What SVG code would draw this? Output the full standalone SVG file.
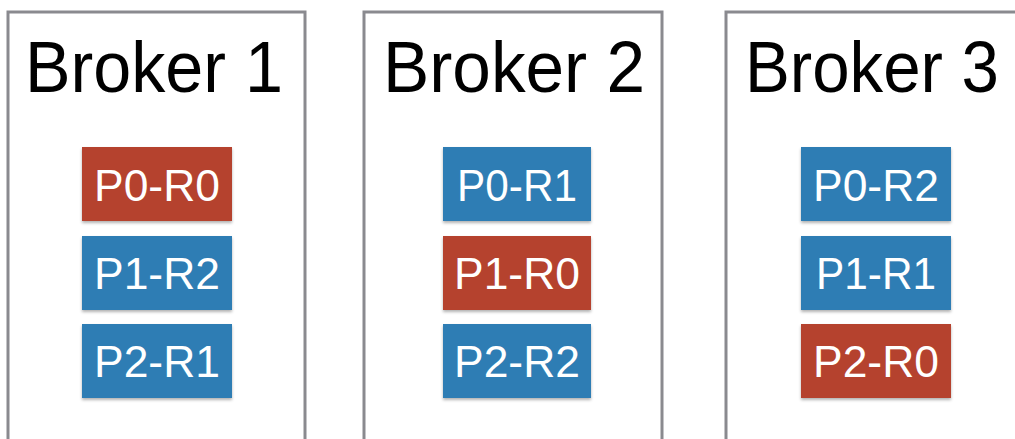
<svg xmlns="http://www.w3.org/2000/svg" width="1015" height="439" viewBox="0 0 1015 439">
  <style>
    .broker { fill: #ffffff; stroke: #8a8a8f; stroke-width: 3; }
    .title { font-family: "Liberation Sans", Arial, sans-serif; font-size: 72px; fill: #000000; text-anchor: middle; }
    .red { fill: #b5432f; filter: url(#sh); }
    .blue { fill: #2f7db4; filter: url(#sh); }
    .pl { font-family: "Liberation Sans", Arial, sans-serif; font-size: 45px; fill: #ffffff; text-anchor: middle; }
  </style>
  <defs>
    <filter id="sh" x="-10%" y="-10%" width="120%" height="130%">
      <feDropShadow dx="0" dy="2" stdDeviation="1.5" flood-color="#000" flood-opacity="0.3"/>
    </filter>
  </defs>
  <rect width="1015" height="439" fill="#ffffff"/>

  <g id="broker1">
    <rect class="broker" x="8" y="12" width="297" height="440"/>
    <text class="title" x="154" y="92" textLength="258" lengthAdjust="spacingAndGlyphs">Broker 1</text>
    <rect class="red" x="82" y="147" width="150" height="74"/>
    <text class="pl" x="157" y="201" textLength="126" lengthAdjust="spacingAndGlyphs">P0-R0</text>
    <rect class="blue" x="82" y="236" width="150" height="74"/>
    <text class="pl" x="157" y="289" textLength="126" lengthAdjust="spacingAndGlyphs">P1-R2</text>
    <rect class="blue" x="82" y="324" width="150" height="74"/>
    <text class="pl" x="157" y="377" textLength="126" lengthAdjust="spacingAndGlyphs">P2-R1</text>
  </g>

  <g id="broker2">
    <rect class="broker" x="364" y="12" width="298" height="440"/>
    <text class="title" x="514" y="92" textLength="262" lengthAdjust="spacingAndGlyphs">Broker 2</text>
    <rect class="blue" x="443" y="147" width="148" height="74"/>
    <text class="pl" x="517" y="201" textLength="120" lengthAdjust="spacingAndGlyphs">P0-R1</text>
    <rect class="red" x="443" y="236" width="148" height="74"/>
    <text class="pl" x="517" y="289" textLength="126" lengthAdjust="spacingAndGlyphs">P1-R0</text>
    <rect class="blue" x="443" y="324" width="148" height="74"/>
    <text class="pl" x="517" y="377" textLength="126" lengthAdjust="spacingAndGlyphs">P2-R2</text>
  </g>

  <g id="broker3">
    <rect class="broker" x="726" y="12" width="298" height="440"/>
    <text class="title" x="872" y="92" textLength="254" lengthAdjust="spacingAndGlyphs">Broker 3</text>
    <rect class="blue" x="801" y="147" width="150" height="74"/>
    <text class="pl" x="876" y="201" textLength="126" lengthAdjust="spacingAndGlyphs">P0-R2</text>
    <rect class="blue" x="801" y="236" width="150" height="74"/>
    <text class="pl" x="876" y="289" textLength="120" lengthAdjust="spacingAndGlyphs">P1-R1</text>
    <rect class="red" x="801" y="324" width="150" height="74"/>
    <text class="pl" x="876" y="377" textLength="126" lengthAdjust="spacingAndGlyphs">P2-R0</text>
  </g>

  <g id="connectors"></g>
</svg>
